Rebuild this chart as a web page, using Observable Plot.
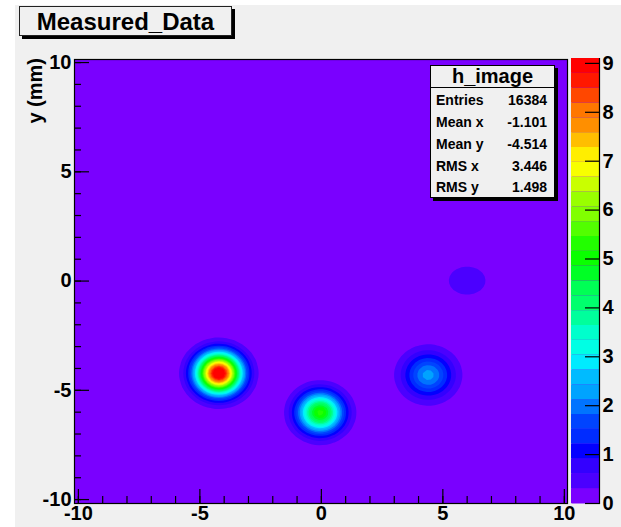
<!DOCTYPE html>
<html><head><meta charset="utf-8">
<script src="https://cdn.jsdelivr.net/npm/d3@7"></script>
<script src="https://cdn.jsdelivr.net/npm/@observablehq/plot@0.6"></script>
<style>
body{margin:0;background:#fff;}
#wrap{position:relative;width:621px;height:527px;overflow:hidden;font-family:"Liberation Sans",Arial,Helvetica,sans-serif;color:#000;}
#canvas{position:absolute;left:15px;top:5px;right:0;bottom:0;background:#f0f0f0;}
.layer{position:absolute;left:0;top:0;}
#title{position:absolute;left:19px;top:6px;width:211px;height:28px;border:1px solid #222;background:#f0f0f0;box-shadow:3px 3px 0 #000;font-weight:bold;font-size:24px;text-align:center;line-height:30px;}
#ylabel{position:absolute;left:25px;top:178px;width:120px;height:20px;line-height:20px;font-size:20px;font-weight:bold;text-align:right;transform:rotate(-90deg);transform-origin:top left;white-space:nowrap;}
#stats{position:absolute;left:430px;top:65px;width:123px;height:131px;border:1px solid #000;background:#f0f0f0;box-shadow:3px 3px 0 #000;}
#stats .hdr{position:absolute;left:0;top:0;width:123px;height:21px;border-bottom:1px solid #000;font-size:20px;font-weight:bold;text-align:center;line-height:20px;}
#stats .lab{position:absolute;left:5px;font-size:14px;font-weight:bold;line-height:14px;white-space:nowrap;}
#stats .val{position:absolute;right:7px;font-size:14px;font-weight:bold;line-height:14px;white-space:nowrap;text-align:right;}
</style></head>
<body>
<div id="wrap">
  <div id="canvas"></div>
  <div id="main" class="layer"></div>
  <div id="bar" class="layer"></div>
  <div id="title"></div>
  <div id="ylabel"></div>
  <div id="stats"></div>
</div>
<script>
// ---- data ----
const titleText = "Measured_Data";
const yTitle = "y (mm)";
const histName = "h_image";
const statsLabels = ["Entries", "Mean x", "Mean y", "RMS x", "RMS y"];
const statsValues = ["16384", "-1.101", "-4.514", "3.446", "1.498"];

const nBins = 128;                       // 128 x 128 bins = 16384 entries
const xDomain = [-10.16, 10.13];
const yDomain = [-10.18, 10.14];

// Gaussian spots seen in the image (centre, peak height, widths)
const blobX      = [-4.22, -0.05, 4.40, 6.00];
const blobY      = [-4.22, -6.02, -4.30, 0.02];
const blobPeak   = [9.6, 5.3, 2.25, 0.45];
const blobSigmaX = [0.62, 0.62, 0.70, 0.85];
const blobSigmaY = [0.62, 0.62, 0.70, 0.72];

const zMax = 9.1;
const nLevels = 30;

const xMajor = [-10, -5, 0, 5, 10];
const xMinor = d3.range(-10, 11, 1);
const yMajor = [-10, -5, 0, 5, 10];
const yMinor = d3.range(-10, 11, 1);
const zTicks = [0, 1, 2, 3, 4, 5, 6, 7, 8, 9];

// ---- build the histogram grid from the spots ----
const values = new Float64Array(nBins * nBins);
for (let r = 0; r < nBins; r++) {
  const y = yDomain[0] + (r + 0.5) * (yDomain[1] - yDomain[0]) / nBins;
  for (let c = 0; c < nBins; c++) {
    const x = xDomain[0] + (c + 0.5) * (xDomain[1] - xDomain[0]) / nBins;
    let v = 0;
    for (let b = 0; b < blobX.length; b++) {
      const dx = (x - blobX[b]) / blobSigmaX[b], dy = (y - blobY[b]) / blobSigmaY[b];
      v += blobPeak[b] * Math.exp(-0.5 * (dx * dx + dy * dy));
    }
    values[r * nBins + c] = v;
  }
}

// ROOT "pretty" palette (50 colours, hue 280 -> 0) mapped onto nLevels contours
const step = zMax / nLevels;
const thresholds = d3.range(nLevels).map(k => k * step);
const colors = d3.range(nLevels).map(k => {
  const j = Math.floor(0.01 + (k + 0.99) * 50 / nLevels);
  return d3.hsl(280 - (j + 1) * 5.6, 1, 0.5).formatHex();
});
const colorScale = {type: "threshold", domain: thresholds.slice(1), range: colors};

const font = "Liberation Sans, Arial, Helvetica, sans-serif";
const fmt = d => String(d);

const main = Plot.plot({
  width: 621, height: 527,
  marginLeft: 74, marginRight: 54, marginTop: 59, marginBottom: 24,
  style: {background: "transparent", fontFamily: font, color: "#000"},
  x: {domain: xDomain},
  y: {domain: yDomain},
  color: colorScale,
  marks: [
    Plot.frame({fill: colors[0]}),
    Plot.contour(values, {
      width: nBins, height: nBins,
      x1: xDomain[0], x2: xDomain[1], y1: yDomain[0], y2: yDomain[1],
      fill: Plot.identity, thresholds, stroke: "none"
    }),
    Plot.frame({stroke: "#000", strokeWidth: 1.2}),
    Plot.axisX({ticks: xMinor, tickSize: -7, tickFormat: () => "", label: null, strokeWidth: 1.2}),
    Plot.axisX({ticks: xMajor, tickSize: -14, tickPadding: 16, tickFormat: fmt, label: null,
      fontSize: 20, fontWeight: "bold", strokeWidth: 1.2}),
    Plot.axisY({ticks: yMinor, tickSize: -7, tickFormat: () => "", label: null, strokeWidth: 1.2}),
    Plot.axisY({ticks: yMajor, tickSize: -15, tickPadding: 18, tickFormat: fmt, label: null,
      fontSize: 20, fontWeight: "bold", strokeWidth: 1.2})
  ]
});
document.getElementById("main").append(main);

const bands = thresholds.map((t, k) => ({lo: t, hi: t + step, color: colors[k]}));
const bar = Plot.plot({
  width: 621, height: 527,
  marginLeft: 571, marginRight: 22, marginTop: 58, marginBottom: 24,
  style: {background: "transparent", fontFamily: font, color: "#000"},
  y: {domain: [0, zMax]},
  color: {type: "identity"},
  marks: [
    Plot.frame({fill: colors[0]}),
    Plot.rect(bands, {y1: "lo", y2: "hi", fill: "color"}),
    Plot.frame({anchor: "right", stroke: "#000", strokeWidth: 1.2}),
    Plot.axisY({anchor: "right", ticks: zTicks, tickSize: -15, tickPadding: 18, tickFormat: fmt,
      label: null, fontSize: 20, fontWeight: "bold", strokeWidth: 1.2})
  ]
});
document.getElementById("bar").append(bar);

document.getElementById("title").textContent = titleText;
document.getElementById("ylabel").textContent = yTitle;
const stats = document.getElementById("stats");
const hdr = document.createElement("div");
hdr.className = "hdr"; hdr.textContent = histName; stats.append(hdr);
const rowTops = [27, 49, 71, 93, 114];
statsLabels.forEach((l, i) => {
  const a = document.createElement("div"); a.className = "lab"; a.style.top = rowTops[i] + "px"; a.textContent = l;
  const b = document.createElement("div"); b.className = "val"; b.style.top = rowTops[i] + "px"; b.textContent = statsValues[i];
  stats.append(a, b);
});
</script>
</body></html>
